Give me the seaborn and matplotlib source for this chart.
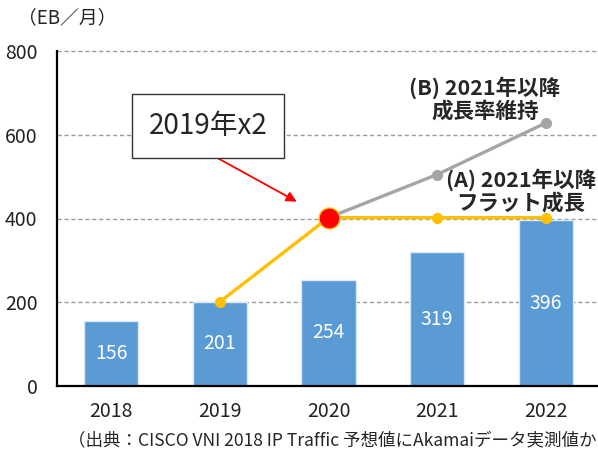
import matplotlib
matplotlib.use("Agg")
import matplotlib.pyplot as plt
import seaborn as sns
import pandas as pd

# データ (EB/月)
years = ["2018", "2019", "2020", "2021", "2022"]
traffic = [156, 201, 254, 319, 396]

# (A) 2021年以降フラット成長
flat_years = ["2019", "2020", "2021", "2022"]
flat_values = [201, 402, 402, 402]

# (B) 2021年以降成長率維持
keep_years = ["2020", "2021", "2022"]
keep_values = [402, 505, 628]

yticks = [0, 200, 400, 600, 800]

sns.set_theme(style="white")
plt.rcParams['font.family'] = ['Noto Sans CJK JP', 'DejaVu Sans']

fig = plt.figure(figsize=(5.98, 4.5), dpi=100)
ax = fig.add_axes([57 / 598, 1 - 386 / 450, 543 / 598, 335 / 450])

df = pd.DataFrame({"year": years, "traffic": traffic})
sns.barplot(data=df, x="year", y="traffic", color="#5B9BD5", saturation=1,
            width=0.5, edgecolor="#DCE8F5", linewidth=1, ax=ax, zorder=2)

# 棒の中央に値ラベル
for i, v in enumerate(traffic):
    ax.text(i, v / 2, str(v), ha="center", va="center", color="white", fontsize=14, zorder=3)

# 折れ線
flat_x = [years.index(y) for y in flat_years]
keep_x = [years.index(y) for y in keep_years]
ax.plot(keep_x, keep_values, color="#A5A5A5", lw=2.4, marker="o", ms=7, zorder=4)
ax.plot(flat_x, flat_values, color="#FFC000", lw=2.4, marker="o", ms=7, zorder=5)
ax.plot([years.index("2020")], [flat_values[1]], marker="o", ms=15, color="#FF0000",
        markeredgecolor="#FFC000", markeredgewidth=1, zorder=6)

ax.set_xlim(-0.5, 4.5)
ax.set_ylim(0, 800)
ax.set_yticks(yticks)
ax.set_xlabel("")
ax.set_ylabel("")
ax.tick_params(axis="both", length=0, labelsize=14, colors="#222222")
ax.tick_params(axis="x", pad=11)
ax.tick_params(axis="y", pad=14)

for y in yticks[1:]:
    ax.axhline(y, color="#9A9A9A", lw=1, ls=(0, (3, 2)), zorder=1, clip_on=False)
ax.spines["top"].set_visible(False)
ax.spines["right"].set_visible(False)
for s in ["left", "bottom"]:
    ax.spines[s].set_color("black")
    ax.spines[s].set_linewidth(1.6)

# 注釈
ax.annotate("", xy=(2 - 0.27, 437), xytext=(0.89, 557),
            arrowprops=dict(arrowstyle="-|>", color="red", lw=1.3, mutation_scale=15), zorder=7)
fig.text(208 / 598, 1 - 126 / 450, "2019年x2", ha="center", va="center", fontsize=20,
         bbox=dict(boxstyle="square,pad=0.6", fc="white", ec="#333333", lw=1))

fig.text(485 / 598, 1 - 99 / 450, "(B) 2021年以降\n成長率維持", ha="center", va="center",
         fontsize=15.5, fontweight="bold", linespacing=1.1)
fig.text(521 / 598, 1 - 191 / 450, "(A) 2021年以降\nフラット成長", ha="center", va="center",
         fontsize=15.5, fontweight="bold", linespacing=1.1)

fig.text(18 / 598, 1 - 18 / 450, "（EB／月）", ha="left", va="center", fontsize=13.5)
fig.text(68 / 598, 1 - 440 / 450, "（出典：CISCO VNI 2018 IP Traffic 予想値にAkamaiデータ実測値から推計）",
         ha="left", va="center", fontsize=12.6)

fig.savefig("out.png", dpi=100)
